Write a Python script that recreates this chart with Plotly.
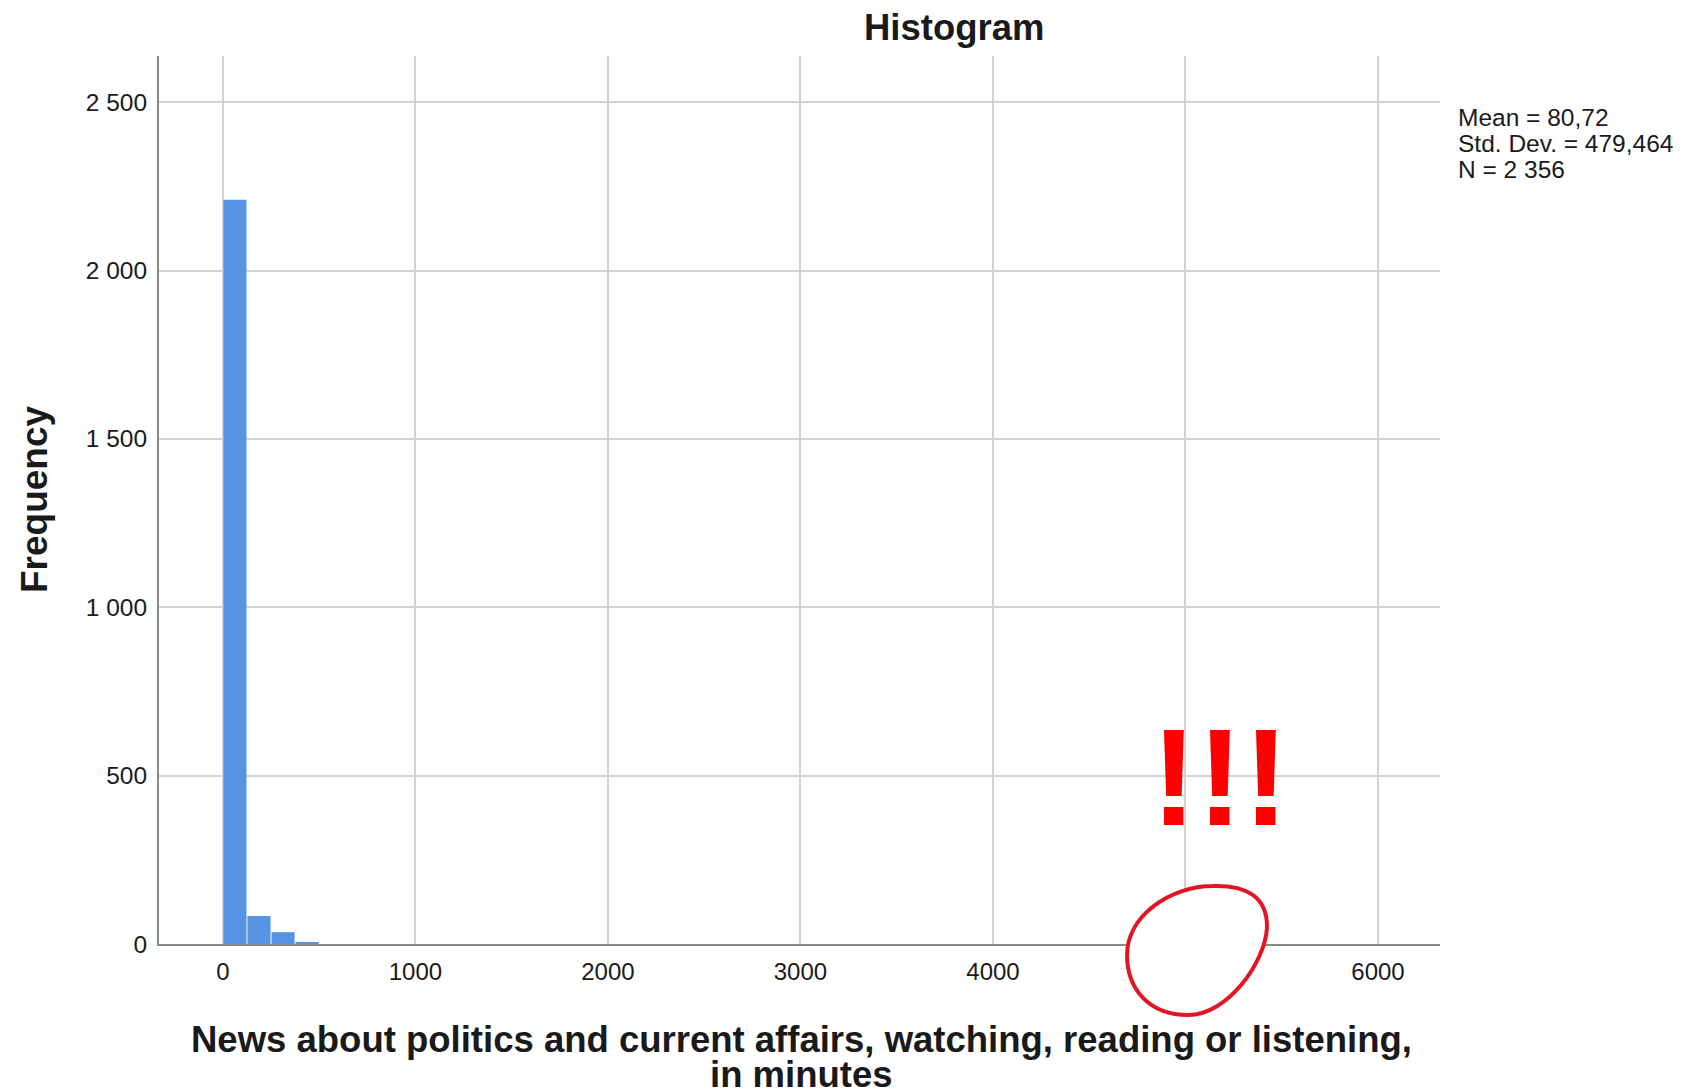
import plotly.graph_objects as go

# Histogram data (bin start in minutes, bin width 125);
# the remaining tail counts are too small to be seen, the outlier near 5000 is hidden by the scribble
bin_start = [0, 125, 250, 375, 5000]
freq = [2210, 83, 35, 6, 1]
bin_width = 125

x_ticks = [0, 1000, 2000, 3000, 4000, 5000, 6000]
x_labels = ["0", "1000", "2000", "3000", "4000", "", "6000"]   # 5000 is scribbled over
y_ticks = [0, 500, 1000, 1500, 2000, 2500]

stats = ["Mean = 80,72", "Std. Dev. = 479,464", "N = 2 356"]

W, H = 1683, 1092
OFF = 8  # page body margin
L, R, T, B = 159 - OFF, 243 + OFF, 56 - OFF, 148 + OFF
pw, ph = W - L - R, H - T - B


def px(x):  # screen pixel -> paper x
    return (x - OFF - L) / pw


def py(y):  # screen pixel -> paper y
    return (OFF + T + ph - y) / ph


FONT = "Liberation Sans, Arial, sans-serif"

fig = go.Figure()
fig.add_trace(go.Bar(
    x=[b + bin_width / 2 for b in bin_start],
    y=freq,
    width=bin_width - 5,
    marker=dict(color="#5595e3", line=dict(width=0)),
))

fig.update_layout(
    width=W, height=H,
    margin=dict(l=L, r=R, t=T, b=B),
    plot_bgcolor="white", paper_bgcolor="white",
    showlegend=False,
    separators=", ",
    font=dict(family=FONT, color="#1a1a1a"),
    xaxis=dict(
        range=[-332, 6322], tickvals=x_ticks, ticktext=x_labels,
        showgrid=True, gridcolor="#d2d2d2", gridwidth=2,
        zeroline=False, showline=True, linecolor="#8a8a8a", linewidth=2,
        ticks="outside", ticklen=5, tickcolor="rgba(0,0,0,0)",
        tickfont=dict(size=24, family=FONT, color="#1a1a1a"),
    ),
    yaxis=dict(
        range=[0, 2637], tickvals=y_ticks, separatethousands=True,
        showgrid=True, gridcolor="#d2d2d2", gridwidth=2,
        zeroline=False, showline=True, linecolor="#8a8a8a", linewidth=2,
        ticks="outside", ticklen=5, tickcolor="rgba(0,0,0,0)",
        tickfont=dict(size=24.5, family=FONT, color="#1a1a1a"),
    ),
)

ann = []
ann.append(dict(text="<b>Histogram</b>", x=px(954), y=py(27), font=dict(size=36.5)))
ann.append(dict(text="<b>Frequency</b>", x=px(35), y=py(499), textangle=-90, font=dict(size=37)))
ann.append(dict(text="<b>News about politics and current affairs, watching, reading or listening,</b>",
                x=px(801), y=py(1039), font=dict(size=36.5)))
ann.append(dict(text="<b>in minutes</b>", x=px(801), y=py(1074), font=dict(size=36.5)))
for i, s in enumerate(stats):
    ann.append(dict(text=s, x=px(1456), y=py(118 + 25.5 * i), xanchor="left", font=dict(size=24.5)))
ann.append(dict(text="<b>!!!</b>", x=px(1220), y=py(777), font=dict(size=138, color="#ff0000")))

for a in ann:
    a.update(xref="paper", yref="paper", showarrow=False)
    a.setdefault("xanchor", "center")
    a["yanchor"] = "middle"
    a["font"].setdefault("family", FONT)
    a["font"].setdefault("color", "#1a1a1a")
fig.update_layout(annotations=ann)

# hand-drawn red circle, filled white (it hides what was under it)
pts = [(1213, 886),
       (1245, 885), (1268, 896), (1267, 928),
       (1265, 962), (1228, 1015), (1188, 1015),
       (1150, 1015), (1127, 990), (1127, 955),
       (1127, 916), (1170, 886), (1213, 886)]
p = [(px(a), py(b)) for a, b in pts]
path = "M {:.4f},{:.4f}".format(*p[0])
for k in range(1, len(p), 3):
    path += " C {:.4f},{:.4f} {:.4f},{:.4f} {:.4f},{:.4f}".format(*p[k], *p[k + 1], *p[k + 2])
path += " Z"
fig.add_shape(type="path", path=path, xref="paper", yref="paper", layer="above",
              fillcolor="white", line=dict(color="#e31524", width=4))

fig.write_html("out.html")
